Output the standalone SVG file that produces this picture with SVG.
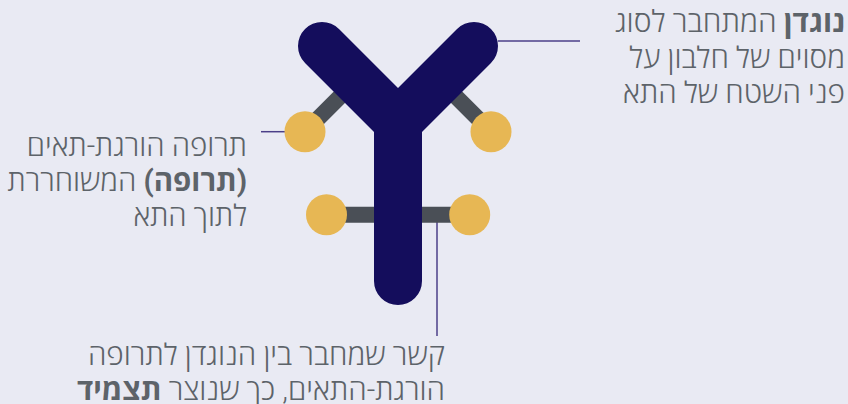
<svg xmlns="http://www.w3.org/2000/svg" width="848" height="404" viewBox="0 0 848 404">
<style>
.t{font-family:"Roboto","Open Sans",sans-serif;font-size:30px;font-weight:300;fill:#5d6369;direction:rtl;text-anchor:start}
.s{font-size:29.5px}
.m{font-size:29.7px}
.b{font-weight:700}
.c{fill:#e7b754}
.g{stroke:#4a4f56;stroke-width:16;fill:none}
.l{stroke:#4b3f88;stroke-width:1.5;fill:none}
</style>
<rect width="848" height="404" fill="#e9eaf3"/>
<g id="connectors">
<path class="l" d="M498 41H580"/>
<path class="l" d="M261 131.7H286"/>
<path class="l" d="M437 222V336"/>
</g>
<g id="linkers">
<path class="g" d="M305 131.7L350 86.7"/>
<path class="g" d="M491 131.7L446 86.7"/>
<path class="g" d="M326.5 214.7H470"/>
</g>
<g id="drugs">
<circle class="c" cx="305" cy="131.7" r="20.5"/>
<circle class="c" cx="491" cy="131.7" r="20.5"/>
<circle class="c" cx="326.5" cy="214.7" r="20.5"/>
<circle class="c" cx="469.7" cy="214.7" r="20.5"/>
</g>
<g id="antibody">
<path d="M322 46L398 122L474 46M398 122V281" fill="none" stroke="#140d5c" stroke-width="48" stroke-linecap="round" stroke-linejoin="miter"/>
</g>
<g id="label-antibody">
<text class="t" x="845" y="32"><tspan class="b">נוגדן</tspan> המתחבר לסוג</text>
<text class="t m" x="845" y="67.5">מסוים של חלבון על</text>
<text class="t m" x="845" y="103">פני השטח של התא</text>
</g>
<g id="label-drug">
<text class="t s" x="247" y="156">תרופה הורגת-תאים</text>
<text class="t s" x="247" y="191"><tspan class="b">(תרופה)</tspan> המשוחררת</text>
<text class="t s" x="247" y="226">לתוך התא</text>
</g>
<g id="label-linker">
<text class="t m" x="445" y="365">קשר שמחבר בין הנוגדן לתרופה</text>
<text class="t m" x="445" y="400">הורגת-התאים, כך שנוצר <tspan class="b">תצמיד</tspan></text>
</g>
</svg>
